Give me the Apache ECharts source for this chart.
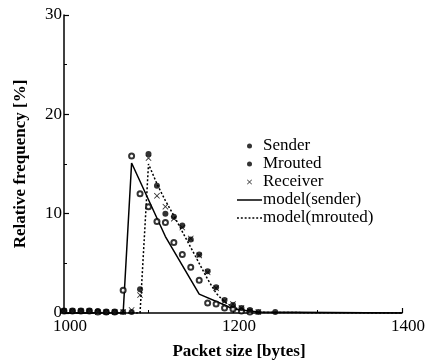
<!DOCTYPE html>
<html>
<head>
<meta charset="utf-8">
<script src="https://cdn.jsdelivr.net/npm/echarts@6/dist/echarts.min.js"></script>
<style>
html,body{margin:0;padding:0;background:#fff;}
#chart{width:430px;height:363px;}
</style>
</head>
<body>
<div id="chart"></div>
<script>
// ---- data ----
var xTicks = [1000, 1200, 1400];
var yTicks = [0, 10, 20, 30];

var senderSizes = [1000,1010,1020,1030,1040,1050,1060,1070,1080,1090,1100,1110,1120,1130,1140,1150,1160,1170,1180,1190,1200,1210,1220];
var senderFreq  = [0.2,0.2,0.2,0.2,0.1,0.1,0.1,2.3,15.8,12.0,10.7,9.2,9.1,7.1,5.9,4.6,3.3,1.0,0.9,0.5,0.4,0.2,0.1];

var mroutedSizes = [1000,1010,1020,1030,1040,1050,1060,1070,1080,1090,1100,1110,1120,1130,1140,1150,1160,1170,1180,1190,1200,1210,1220,1230,1250];
var mroutedFreq  = [0.2,0.2,0.2,0.2,0.2,0.1,0.1,0.1,0.1,2.4,16.0,12.8,10.0,9.7,8.8,7.4,5.9,4.2,2.6,1.3,0.8,0.5,0.3,0.1,0.1];

var receiverSizes = [1000,1010,1020,1030,1040,1050,1060,1070,1080,1090,1100,1110,1120,1130,1140,1150,1160,1170,1180,1190,1200,1210,1220,1230];
var receiverFreq  = [0.2,0.2,0.2,0.2,0.1,0.1,0.1,0.1,0.3,1.8,15.6,11.8,10.7,9.5,8.6,7.5,5.8,4.1,2.5,1.2,0.9,0.5,0.2,0.1];

var modelSenderSizes = [1000,1070,1080,1120,1160,1190,1200,1230,1400];
var modelSenderFreq  = [0,0,15.1,7.7,1.9,0.8,0.4,0.1,0];

var modelMroutedSizes = [1000,1090,1100,1110,1120,1130,1140,1150,1160,1170,1180,1190,1200,1210,1220,1240,1400];
var modelMroutedFreq  = [0,0,15.0,13.0,11.3,9.8,8.2,6.6,5.0,3.4,2.0,1.1,0.6,0.3,0.15,0.05,0];

function pairs(xs, ys){ return xs.map(function(x,i){ return [x, ys[i]]; }); }

var FONT = '"Liberation Serif","DejaVu Serif",serif';
var XMARK = 'path://M0,1 L1,0 L5,4 L9,0 L10,1 L6,5 L10,9 L9,10 L5,6 L1,10 L0,9 L4,5 Z';
var SOLID_ICON = 'path://M0,0 L25,0 L25,1.5 L0,1.5 Z';
var dashParts = [];
for (var d = 0; d < 25; d += 4) { dashParts.push('M' + d + ',0 h2 v1.5 h-2 Z'); }
var DOT_ICON = 'path://' + dashParts.join(' ');

var chart = echarts.init(document.getElementById('chart'), null, {renderer:'canvas'});
chart.setOption({
  animation: false,
  backgroundColor: '#fff',
  textStyle: {fontFamily: FONT, color: '#000'},
  grid: {left: 64, right: 28, top: 15, bottom: 50, containLabel: false, outerBoundsMode: 'none'},
  legend: {
    left: 232, top: 132,
    orient: 'vertical',
    itemWidth: 25, itemHeight: 5, itemGap: 0,
    symbolKeepAspect: true,
    textStyle: {fontFamily: FONT, fontSize: 17, lineHeight: 18, color: '#000', padding: [0,0,0,-4]},
    data: [
      {name: 'Sender', icon: 'circle', itemStyle: {borderWidth: 0, color: '#000'}},
      {name: 'Mrouted', icon: 'circle'},
      {name: 'Receiver', icon: XMARK},
      {name: 'model(sender)', icon: SOLID_ICON},
      {name: 'model(mrouted)', icon: DOT_ICON}
    ]
  },
  xAxis: {
    type: 'value', min: xTicks[0], max: xTicks[xTicks.length-1], interval: 200,
    name: 'Packet size [bytes]', nameLocation: 'middle', nameGap: 30,
    nameTextStyle: {fontFamily: FONT, fontSize: 17, fontWeight: 'bold', color: '#000', padding: [0,0,0,12]},
    axisLine: {show: true, onZero: false, lineStyle: {color: '#000', width: 1.5}},
    axisTick: {show: true, inside: true, length: 5, lineStyle: {color: '#000', width: 1.2}},
    minorTick: {show: true, splitNumber: 2, length: 3, lineStyle: {color: '#000', width: 1}},
    axisLabel: {fontFamily: FONT, fontSize: 17, color: '#000', margin: 5, padding: [0,0,0,12],
                formatter: function(v){ return String(v); }},
    splitLine: {show: false}
  },
  yAxis: {
    type: 'value', min: yTicks[0], max: yTicks[yTicks.length-1], interval: 10,
    name: 'Relative frequency [%]', nameLocation: 'middle', nameGap: 35,
    nameTextStyle: {fontFamily: FONT, fontSize: 17, fontWeight: 'bold', color: '#000'},
    axisLine: {show: true, onZero: false, lineStyle: {color: '#000', width: 1.5}},
    axisTick: {show: true, inside: true, length: 5, lineStyle: {color: '#000', width: 1.2}},
    minorTick: {show: true, splitNumber: 2, length: 3, lineStyle: {color: '#000', width: 1}},
    axisLabel: {fontFamily: FONT, fontSize: 17, color: '#000', margin: 2,
                formatter: function(v){ return String(v); }},
    splitLine: {show: false}
  },
  series: [
    {
      name: 'model(sender)', type: 'line', symbol: 'none', z: 2,
      data: pairs(modelSenderSizes, modelSenderFreq),
      lineStyle: {color: '#000', width: 1.5, type: 'solid'},
      itemStyle: {color: '#000'}
    },
    {
      name: 'model(mrouted)', type: 'line', symbol: 'none', z: 2,
      data: pairs(modelMroutedSizes, modelMroutedFreq),
      lineStyle: {color: '#000', width: 1.5, type: [2, 2]},
      itemStyle: {color: '#000'}
    },
    {
      name: 'Sender', type: 'scatter', symbol: 'emptyCircle', symbolSize: 5, z: 3,
      data: pairs(senderSizes, senderFreq),
      itemStyle: {color: '#000', borderColor: '#000', borderWidth: 1.3}
    },
    {
      name: 'Mrouted', type: 'scatter', symbol: 'circle', symbolSize: 6, z: 3,
      data: pairs(mroutedSizes, mroutedFreq),
      itemStyle: {color: '#000'}
    },
    {
      name: 'Receiver', type: 'scatter', symbol: XMARK, symbolSize: 6, z: 3,
      data: pairs(receiverSizes, receiverFreq),
      itemStyle: {color: '#000'}
    }
  ]
});
</script>
</body>
</html>
